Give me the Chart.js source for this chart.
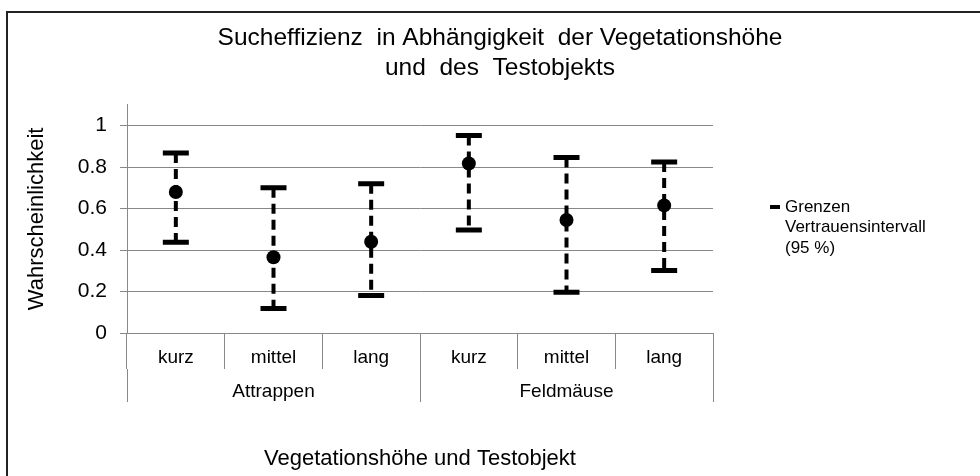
<!DOCTYPE html>
<html>
<head>
<meta charset="utf-8">
<script src="https://cdn.jsdelivr.net/npm/chart.js@4.4.1/dist/chart.umd.min.js"></script>
<style>
  html, body { margin: 0; padding: 0; background: #fff; overflow: hidden; width: 980px; height: 476px; }
  .edge { position: absolute; background: #222; }
  #edgeTop { left: 6px; top: 11px; width: 974px; height: 2px; }
  #edgeLeft { left: 6px; top: 11px; width: 2px; height: 465px; }
  #wrap { position: absolute; left: 8px; top: 13px; width: 984px; height: 463px; }
</style>
</head>
<body>
<div class="edge" id="edgeTop"></div>
<div class="edge" id="edgeLeft"></div>
<div id="wrap"><canvas id="chart"></canvas></div>
<script>
// Vegetationshöhe je Testobjekt
const vegetation = ['kurz', 'mittel', 'lang', 'kurz', 'mittel', 'lang'];
const objects = ['Attrappen', 'Feldmäuse'];

// Schätzwert und Grenzen des 95%-Vertrauensintervalls
const means = [0.68, 0.365, 0.44, 0.817, 0.545, 0.615];
const upper = [0.868, 0.70, 0.72, 0.952, 0.846, 0.824];
const lower = [0.437, 0.118, 0.181, 0.497, 0.197, 0.301];

const legendLines = ['Grenzen', 'Vertrauensintervall', '(95 %)'];

const FONT = "'Liberation Sans', Arial, sans-serif";
const GRID = '#888888';

Chart.defaults.font.family = FONT;
Chart.defaults.color = '#000';

// dashed interval lines with caps, drawn below the mean points
const errorBars = {
    id: 'errorBars',
    beforeDatasetsDraw(chart) {
        const { ctx, scales: { x, y } } = chart;
        ctx.save();
        ctx.strokeStyle = '#000';
        for (let i = 0; i < means.length; i++) {
            const px = x.getPixelForValue(i);
            const top = y.getPixelForValue(upper[i]);
            const bot = y.getPixelForValue(lower[i]);
            ctx.lineWidth = 4;
            ctx.setLineDash([10, 6]);
            ctx.beginPath();
            ctx.moveTo(px, top);
            ctx.lineTo(px, bot);
            ctx.stroke();
            ctx.setLineDash([]);
            ctx.lineWidth = 5;
            ctx.beginPath();
            ctx.moveTo(px - 13, top); ctx.lineTo(px + 13, top);
            ctx.moveTo(px - 13, bot); ctx.lineTo(px + 13, bot);
            ctx.stroke();
        }
        ctx.restore();
    }
};

// legend on the right: short thick dash plus three lines of text
const sideLegend = {
    id: 'sideLegend',
    afterDraw(chart) {
        const { ctx, chartArea } = chart;
        const x0 = chartArea.right + 57;
        const y0 = 194;
        ctx.save();
        ctx.fillStyle = '#000';
        ctx.fillRect(x0, y0 - 2, 10, 4);
        ctx.font = '17px ' + FONT;
        ctx.textBaseline = 'middle';
        legendLines.forEach((t, i) => ctx.fillText(t, x0 + 15, y0 + i * 20.5));
        ctx.restore();
    }
};

new Chart(document.getElementById('chart'), {
    type: 'line',
    data: {
        labels: vegetation,
        datasets: [{
            label: 'Mittelwert',
            data: means,
            showLine: false,
            pointRadius: 7,
            pointHoverRadius: 7,
            pointBackgroundColor: '#000',
            pointBorderWidth: 0
        }]
    },
    options: {
        responsive: true,
        maintainAspectRatio: false,
        animation: false,
        events: [],
        plugins: {
            legend: { display: false },
            tooltip: { enabled: false },
            title: {
                display: true,
                text: ['Sucheffizienz  in Abhängigkeit  der Vegetationshöhe', 'und  des  Testobjekts'],
                font: { size: 24.5, weight: 'normal', lineHeight: 1.2 },
                color: '#000',
                padding: { top: 11, bottom: 22 }
            }
        },
        scales: {
            x: {
                type: 'category',
                offset: true,
                weight: 0,
                grid: { offset: true, drawOnChartArea: false, tickLength: 36, color: GRID },
                border: { color: GRID },
                ticks: { padding: -23, font: { size: 19 }, color: '#000', autoSkip: false, maxRotation: 0 },
                afterFit(s) { s.height = 36; }
            },
            x2: {
                type: 'category',
                labels: objects,
                position: 'bottom',
                offset: true,
                weight: 1,
                grid: { offset: true, drawOnChartArea: false, tickLength: 33, color: GRID },
                border: { display: false },
                ticks: { padding: -22, font: { size: 19 }, color: '#000', autoSkip: false, maxRotation: 0 },
                title: {
                    display: true,
                    text: 'Vegetationshöhe und Testobjekt',
                    font: { size: 22 },
                    color: '#000',
                    padding: { top: 0, bottom: 4 }
                },
                afterFit(s) { s.height = 107; }
            },
            y: {
                min: 0,
                max: 1.1,
                grid: { color: GRID, tickLength: 7 },
                border: { color: GRID },
                ticks: {
                    stepSize: 0.2,
                    includeBounds: false,
                    padding: 13,
                    font: { size: 21 },
                    color: '#000',
                    callback: v => String(Math.round(v * 10) / 10)
                },
                title: {
                    display: true,
                    text: 'Wahrscheinlichkeit',
                    font: { size: 22 },
                    color: '#000',
                    padding: { top: 16 }
                },
                afterFit(s) { s.width = 119; }
            },
            // empty column on the right that holds the legend
            side: {
                position: 'right',
                grid: { display: false },
                border: { display: false },
                ticks: { display: false },
                afterFit(s) { s.width = 279; }
            }
        }
    },
    plugins: [errorBars, sideLegend]
});
</script>
</body>
</html>
